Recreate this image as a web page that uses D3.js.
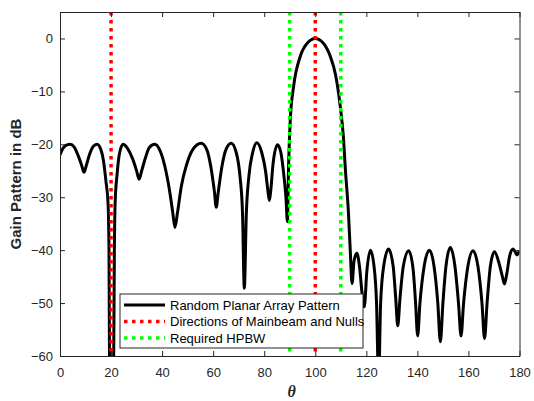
<!DOCTYPE html>
<html>
<head>
<meta charset="utf-8">
<script src="https://cdn.jsdelivr.net/npm/d3@7"></script>
<style>
  body { margin: 0; background: #fff; }
  text { font-family: "Liberation Sans", Arial, sans-serif; }
</style>
</head>
<body>
<script>
// pattern (theta in degrees, gain in dB)
const theta = [0, 1, 2, 4, 5.5, 7, 8.5, 9.4, 10.3, 11.5, 13, 14.5, 16, 17, 18, 18.8, 19.2, 19.4, 20.2, 21, 21.3, 21.6, 22.4, 23.2,
  24.7, 26.5, 28.5, 30, 31, 32, 33.5, 35, 37.1, 39, 41, 43, 44.2, 45, 46, 47.5, 49.5, 52,
  55.3, 57.5, 59, 60.5, 61.2, 62, 63.5, 65, 67.1, 69, 70.5, 71.5, 72.2, 73, 74, 75.5,
  77.1, 79, 80.5, 81.5, 82, 82.5, 83.5, 85.2, 86.5, 87.5, 88.5, 89.1, 89.5, 90.2, 91.5, 94.1, 97,
  100, 103, 105.9, 108, 109.8, 111, 111.8, 113, 113.7, 114.4, 115.2, 116.3, 117.3, 118.3, 119.2, 120.2,
  121.6, 123, 124, 124.8, 125.6, 126.8, 128.7, 130.5, 131.5, 132.3, 133.2, 134.5, 136.6, 138.3, 139.3,
  140.1, 141, 142.5, 144.7, 146.5, 148, 149, 150, 151.2, 152.9, 154.7, 156.1, 157.1, 158.1, 159.8,
  161.8, 163.7, 165.3, 166.3, 167.3, 168.6, 170.2, 172, 173.3, 174.1, 175, 176.2, 177.5, 178.3, 179, 180];
const gain = [-22, -20.9, -20.3, -20, -20.5, -22, -24, -25.3, -24, -22, -20.4, -20, -21, -23, -27, -31, -40, -62, -72, -62, -40, -31, -25.5, -22,
  -20, -20.8, -22.8, -25, -26.6, -25, -22.5, -20.6, -20, -21, -24, -29, -33, -35.7, -33, -28, -24, -21,
  -19.8, -21, -24, -29, -31.9, -29, -24, -21, -19.8, -21.5, -26, -33, -47.2, -33, -26, -21.5,
  -19.7, -21.5, -25, -29, -30.6, -29, -23.5, -20.1, -21.5, -25, -30, -34.6, -25, -15.4, -9.1, -3.4, -0.8,
  0, -0.8, -3.4, -7, -12.9, -18.5, -24.8, -33, -40, -46.3, -42, -40.6, -43, -48, -50.7, -44,
  -40, -43, -50, -65, -50, -43, -39.8, -43, -49, -54.3, -49, -43, -40.1, -43.5, -50,
  -56.2, -50, -43.5, -40, -43, -50, -57.3, -50, -43, -39.5, -43, -50, -56.2, -50, -43,
  -40.1, -43, -50, -56.7, -50, -43, -40.3, -42.5, -45, -46.4, -44.5, -41, -39.8, -40.3, -40.9, -40.1];

const nullDirs = [20, 100];
const hpbwDirs = [90, 110];
const xTicks = [0, 20, 40, 60, 80, 100, 120, 140, 160, 180];
const yTicks = [-60, -50, -40, -30, -20, -10, 0];
const legendLabels = ["Random Planar Array Pattern", "Directions of Mainbeam and Nulls", "Required HPBW"];

const W = 534, H = 401;
const pL = 60, pR = 519.5, pT = 12, pB = 356;
const axisCol = "#262626";

const svg = d3.select("body").append("svg").attr("width", W).attr("height", H);

const x = d3.scaleLinear().domain([0, 180]).range([pL, pR]);
const y = d3.scaleLinear().domain([-60, 5]).range([pB, pT]);

svg.append("clipPath").attr("id", "clip")
  .append("rect").attr("x", pL).attr("y", pT).attr("width", pR - pL).attr("height", pB - pT);

const plot = svg.append("g").attr("clip-path", "url(#clip)");

const pts = theta.map((t, i) => [t, gain[i]]);
const line = d3.line().x(d => x(d[0])).y(d => y(d[1])).curve(d3.curveMonotoneX);

plot.append("path").datum(pts)
  .attr("d", line)
  .attr("fill", "none").attr("stroke", "#000").attr("stroke-width", 3)
  .attr("stroke-linejoin", "round");

function vlines(dirs, col) {
  plot.selectAll(null).data(dirs).enter().append("line")
    .attr("x1", d => x(d)).attr("x2", d => x(d))
    .attr("y1", y(5)).attr("y2", y(-60))
    .attr("stroke", col).attr("stroke-width", 3.5)
    .attr("stroke-dasharray", "3.5,4.5");
}
vlines(nullDirs, "#ff0000");
vlines(hpbwDirs, "#00ff00");

// axes, MATLAB box style with inward ticks
const ax = svg.append("g");
ax.append("g").attr("transform", `translate(0,${pB})`)
  .call(d3.axisBottom(x).tickValues(xTicks).tickSizeInner(-5).tickSizeOuter(0).tickPadding(11.5));
ax.append("g").attr("transform", `translate(0,${pT})`)
  .call(d3.axisTop(x).tickValues(xTicks).tickSizeInner(-5).tickSizeOuter(0).tickFormat(""));
ax.append("g").attr("transform", `translate(${pL},0)`)
  .call(d3.axisLeft(y).tickValues(yTicks).tickSizeInner(-5).tickSizeOuter(0).tickPadding(7));
ax.append("g").attr("transform", `translate(${pR},0)`)
  .call(d3.axisRight(y).tickValues(yTicks).tickSizeInner(-5).tickSizeOuter(0).tickFormat(""));
ax.selectAll("path, line").attr("stroke", axisCol);
ax.selectAll("text").attr("fill", axisCol).style("font-size", "13px")
  .style("font-family", "'Liberation Sans', Arial, sans-serif");

svg.append("text")
  .attr("transform", `translate(21,${(pT + pB) / 2}) rotate(-90)`)
  .attr("text-anchor", "middle")
  .attr("fill", axisCol)
  .style("font-size", "15px").style("font-weight", "bold")
  .text("Gain Pattern in dB");

svg.append("text")
  .attr("x", (pL + pR) / 2 + 2).attr("y", 397)
  .attr("text-anchor", "middle")
  .attr("fill", axisCol)
  .style("font-family", "'Liberation Serif', 'Times New Roman', serif")
  .style("font-size", "16px").style("font-weight", "bold").style("font-style", "italic")
  .text("θ");

// legend
const lg = svg.append("g").attr("transform", "translate(120,294)");
lg.append("rect").attr("width", 243).attr("height", 54)
  .attr("fill", "#fff").attr("stroke", axisCol).attr("stroke-width", 1);
const legStyles = [
  { col: "#000", dash: null, w: 3 },
  { col: "#ff0000", dash: "3.5,4.5", w: 3.5 },
  { col: "#00ff00", dash: "3.5,4.5", w: 3.5 }
];
const rows = lg.selectAll("g").data(legendLabels).enter().append("g")
  .attr("transform", (d, i) => `translate(0,${11 + i * 16.5})`);
rows.append("line").attr("x1", 4).attr("x2", 45)
  .attr("stroke", (d, i) => legStyles[i].col)
  .attr("stroke-width", (d, i) => legStyles[i].w)
  .attr("stroke-dasharray", (d, i) => legStyles[i].dash);
rows.append("text").attr("x", 50).attr("dy", "0.35em")
  .style("font-size", "13px").attr("fill", "#000")
  .text(d => d);
</script>
</body>
</html>
